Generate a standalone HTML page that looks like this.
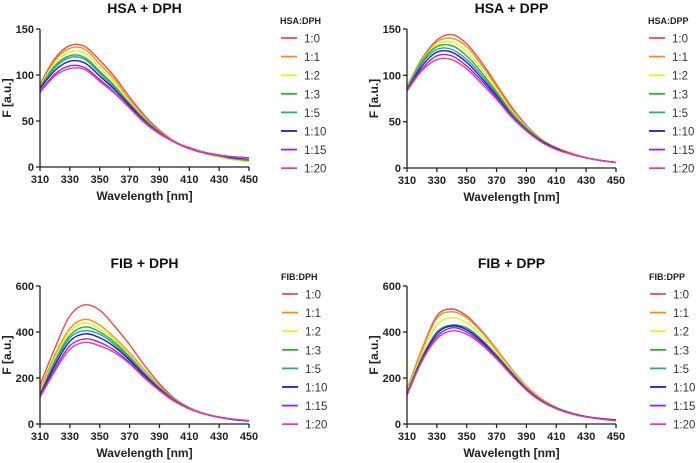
<!DOCTYPE html>
<html><head><meta charset="utf-8"><style>
body{margin:0;background:#fff}
svg{display:block;font-family:"Liberation Sans",Arial,sans-serif}
</style></head><body>
<svg id="c" width="696" height="463"></svg>
<script>
const wavelengths=[310,320,330,340,350,360,370,380,390,400,410,420,430,440,450];
const ratioLabels=["1:0","1:1","1:2","1:3","1:5","1:10","1:15","1:20"];
const xTicks=[310,330,350,370,390,410,430,450];
const hsaTicks=[0,50,100,150];
const fibTicks=[0,200,400,600];
const hsaDph=[
[90,118,132,131,116,98,76,56,40,28,20,15,11,8,6],
[89,116,129,128,112,95,73,54,39,28,20,15,11,8,6],
[88,113,125,124,108,92,71,53,38,27,20,15,11,8,6],
[87,110,121,119,104,88,69,52,38,27,20,15,12,9,7],
[86,108,119,117,102,86,68,51,37,27,20,15,12,9,8],
[85,105,115,113,99,84,67,50,37,27,20,16,13,10,9],
[82,101,110,108,95,81,65,49,37,27,21,16,13,11,10],
[81,99,107,106,93,80,64,48,36,27,20,16,13,11,9]];
const hsaDpp=[
[88,118,138,144,134,114,90,66,46,31,22,16,11,8,6],
[88,117,136,140,131,111,88,64,45,31,22,16,11,8,6],
[87,116,133,136,126,107,85,62,44,30,21,15,11,8,6],
[86,115,131,132,121,103,82,60,43,30,21,15,11,8,6],
[85,113,128,128,117,100,80,59,42,29,21,15,11,8,6],
[84,110,125,125,114,97,78,57,41,29,21,15,11,8,6],
[84,107,121,121,110,94,76,56,40,28,20,15,11,8,6],
[83,105,117,117,107,91,74,55,40,28,20,15,11,8,6]];
const fibDph=[
[170,330,470,518,495,425,345,255,175,112,72,46,30,20,15],
[150,300,415,455,430,375,310,235,165,108,70,45,30,20,14],
[140,285,400,440,415,365,300,228,160,106,69,45,30,20,14],
[130,275,385,422,400,355,292,222,158,105,68,44,29,19,13],
[130,265,375,405,390,345,285,218,155,104,68,44,29,19,13],
[125,255,360,392,375,335,278,212,152,102,67,44,29,19,13],
[120,240,340,370,355,320,268,205,148,100,66,44,30,20,14],
[115,230,325,355,340,310,262,200,145,98,66,44,30,21,15]];
const fibDpp=[
[150,325,470,500,470,405,325,240,165,110,72,48,32,22,14],
[150,320,460,488,462,400,322,238,164,110,72,48,32,22,14],
[140,305,430,462,440,385,312,232,160,107,71,47,32,22,15],
[135,290,400,430,418,368,300,225,156,104,70,47,33,24,18],
[130,285,395,425,410,362,296,222,154,103,69,46,32,23,17],
[128,282,392,428,410,360,293,220,152,102,68,46,32,23,17],
[125,275,380,418,400,352,288,216,150,100,67,45,31,22,15],
[125,272,370,405,390,345,283,212,147,98,66,44,30,21,14]];
const colors=["#f04a4a","#f5901e","#eeee22","#22b822","#27a5a5","#1a1adb","#a21ee6","#ee3a9a"];

const NS="http://www.w3.org/2000/svg";
const svg=document.getElementById('c');
function mk(tag,attrs,parent){const e=document.createElementNS(NS,tag);for(const k in attrs)e.setAttribute(k,attrs[k]);(parent||svg).appendChild(e);return e;}
function txt(s,x,y,attrs,parent){const t=mk('text',Object.assign({x:x,y:y},attrs),parent);t.textContent=s;return t;}

function panel(cfg){
  const g=mk('g',{});
  
  
  const x0=cfg.ox,x1=cfg.ox+209,yTop=cfg.yTop,yBot=cfg.yBot,ymax=cfg.ticks[cfg.ticks.length-1];
  const sx=v=>x0+(v-310)/(450-310)*(x1-x0);
  const sy=v=>yBot-v/ymax*(yBot-yTop);
  const t=txt(cfg.title,(x0+x1)/2,cfg.titleY,{'text-anchor':'middle','font-size':'14','font-weight':'bold',fill:'#111'},g);
  
  
  cfg.data.forEach((s,i)=>{
    const pts=s.map((v,j)=>[sx(wavelengths[j]),sy(v)]);
    let d='M'+pts[0][0]+','+pts[0][1];
    for(let k=0;k<pts.length-1;k++){
      const p0=pts[k-1]||pts[k],p1=pts[k],p2=pts[k+1],p3=pts[k+2]||p2;
      const c1=[p1[0]+(p2[0]-p0[0])/6,p1[1]+(p2[1]-p0[1])/6];
      const c2=[p2[0]-(p3[0]-p1[0])/6,p2[1]-(p3[1]-p1[1])/6];
      d+=' C'+c1[0]+','+c1[1]+' '+c2[0]+','+c2[1]+' '+p2[0]+','+p2[1];
    }
    const p=mk('path',{d:d,fill:'none',stroke:colors[i],'stroke-width':'1.4'},g);
    
    
  });
  mk('line',{x1:x0,y1:yTop,x2:x0,y2:yBot,stroke:'#222','stroke-width':'1.3'},g);
  mk('line',{x1:x0,y1:yBot,x2:x1,y2:yBot,stroke:'#222','stroke-width':'1.3'},g);
  cfg.ticks.forEach(v=>{
    mk('line',{x1:x0-4,y1:sy(v),x2:x0,y2:sy(v),stroke:'#222','stroke-width':'1.3'},g);
    const l=txt(v,x0-6,sy(v)+4,{'text-anchor':'end','font-size':'11','font-weight':'bold',fill:'#222'},g);
    
    
  });
  xTicks.forEach(v=>{
    mk('line',{x1:sx(v),y1:yBot,x2:sx(v),y2:yBot+4,stroke:'#222','stroke-width':'1.3'},g);
    const l=txt(v,sx(v),yBot+16,{'text-anchor':'middle','font-size':'11','font-weight':'bold',fill:'#222'},g);
    
    
  });
  const xt=txt('Wavelength [nm]',(x0+x1)/2,yBot+33,{'text-anchor':'middle','font-size':'12','font-weight':'bold',fill:'#222'},g);
  
  
  const yc=(yTop+yBot)/2;
  const yt=txt('F [a.u.]',x0-29,yc,{'text-anchor':'middle','font-size':'12','font-weight':'bold',fill:'#222',transform:'rotate(-90 '+(x0-29)+' '+yc+')'},g);
  
  
  const lt=txt(cfg.legendTitle,cfg.lx-1,cfg.ly-14,{'font-size':'9','font-weight':'bold',fill:'#222'},g);
  
  
  ratioLabels.forEach((r,i)=>{
    const y=cfg.ly+i*18.6;
    const e=mk('g',{},g);
    
    
    mk('line',{x1:cfg.lx,y1:y,x2:cfg.lx+16,y2:y,stroke:colors[i],'stroke-width':'1.8'},e);
    txt(r,cfg.lx+23,y+4.5,{'font-size':'11.5',fill:'#333'},e);
  });
}
panel({name:'panel-hsa-dph',title:'HSA + DPH',data:hsaDph,ticks:hsaTicks,ox:40,yTop:29,yBot:167,titleY:13,legendTitle:'HSA:DPH',lx:281,ly:38});
panel({name:'panel-hsa-dpp',title:'HSA + DPP',data:hsaDpp,ticks:hsaTicks,ox:407,yTop:29,yBot:168,titleY:13,legendTitle:'HSA:DPP',lx:649,ly:38});
panel({name:'panel-fib-dph',title:'FIB + DPH',data:fibDph,ticks:fibTicks,ox:40,yTop:286,yBot:424,titleY:268,legendTitle:'FIB:DPH',lx:282,ly:294});
panel({name:'panel-fib-dpp',title:'FIB + DPP',data:fibDpp,ticks:fibTicks,ox:407,yTop:286,yBot:424,titleY:268,legendTitle:'FIB:DPP',lx:650,ly:294});
</script>
</body></html>
